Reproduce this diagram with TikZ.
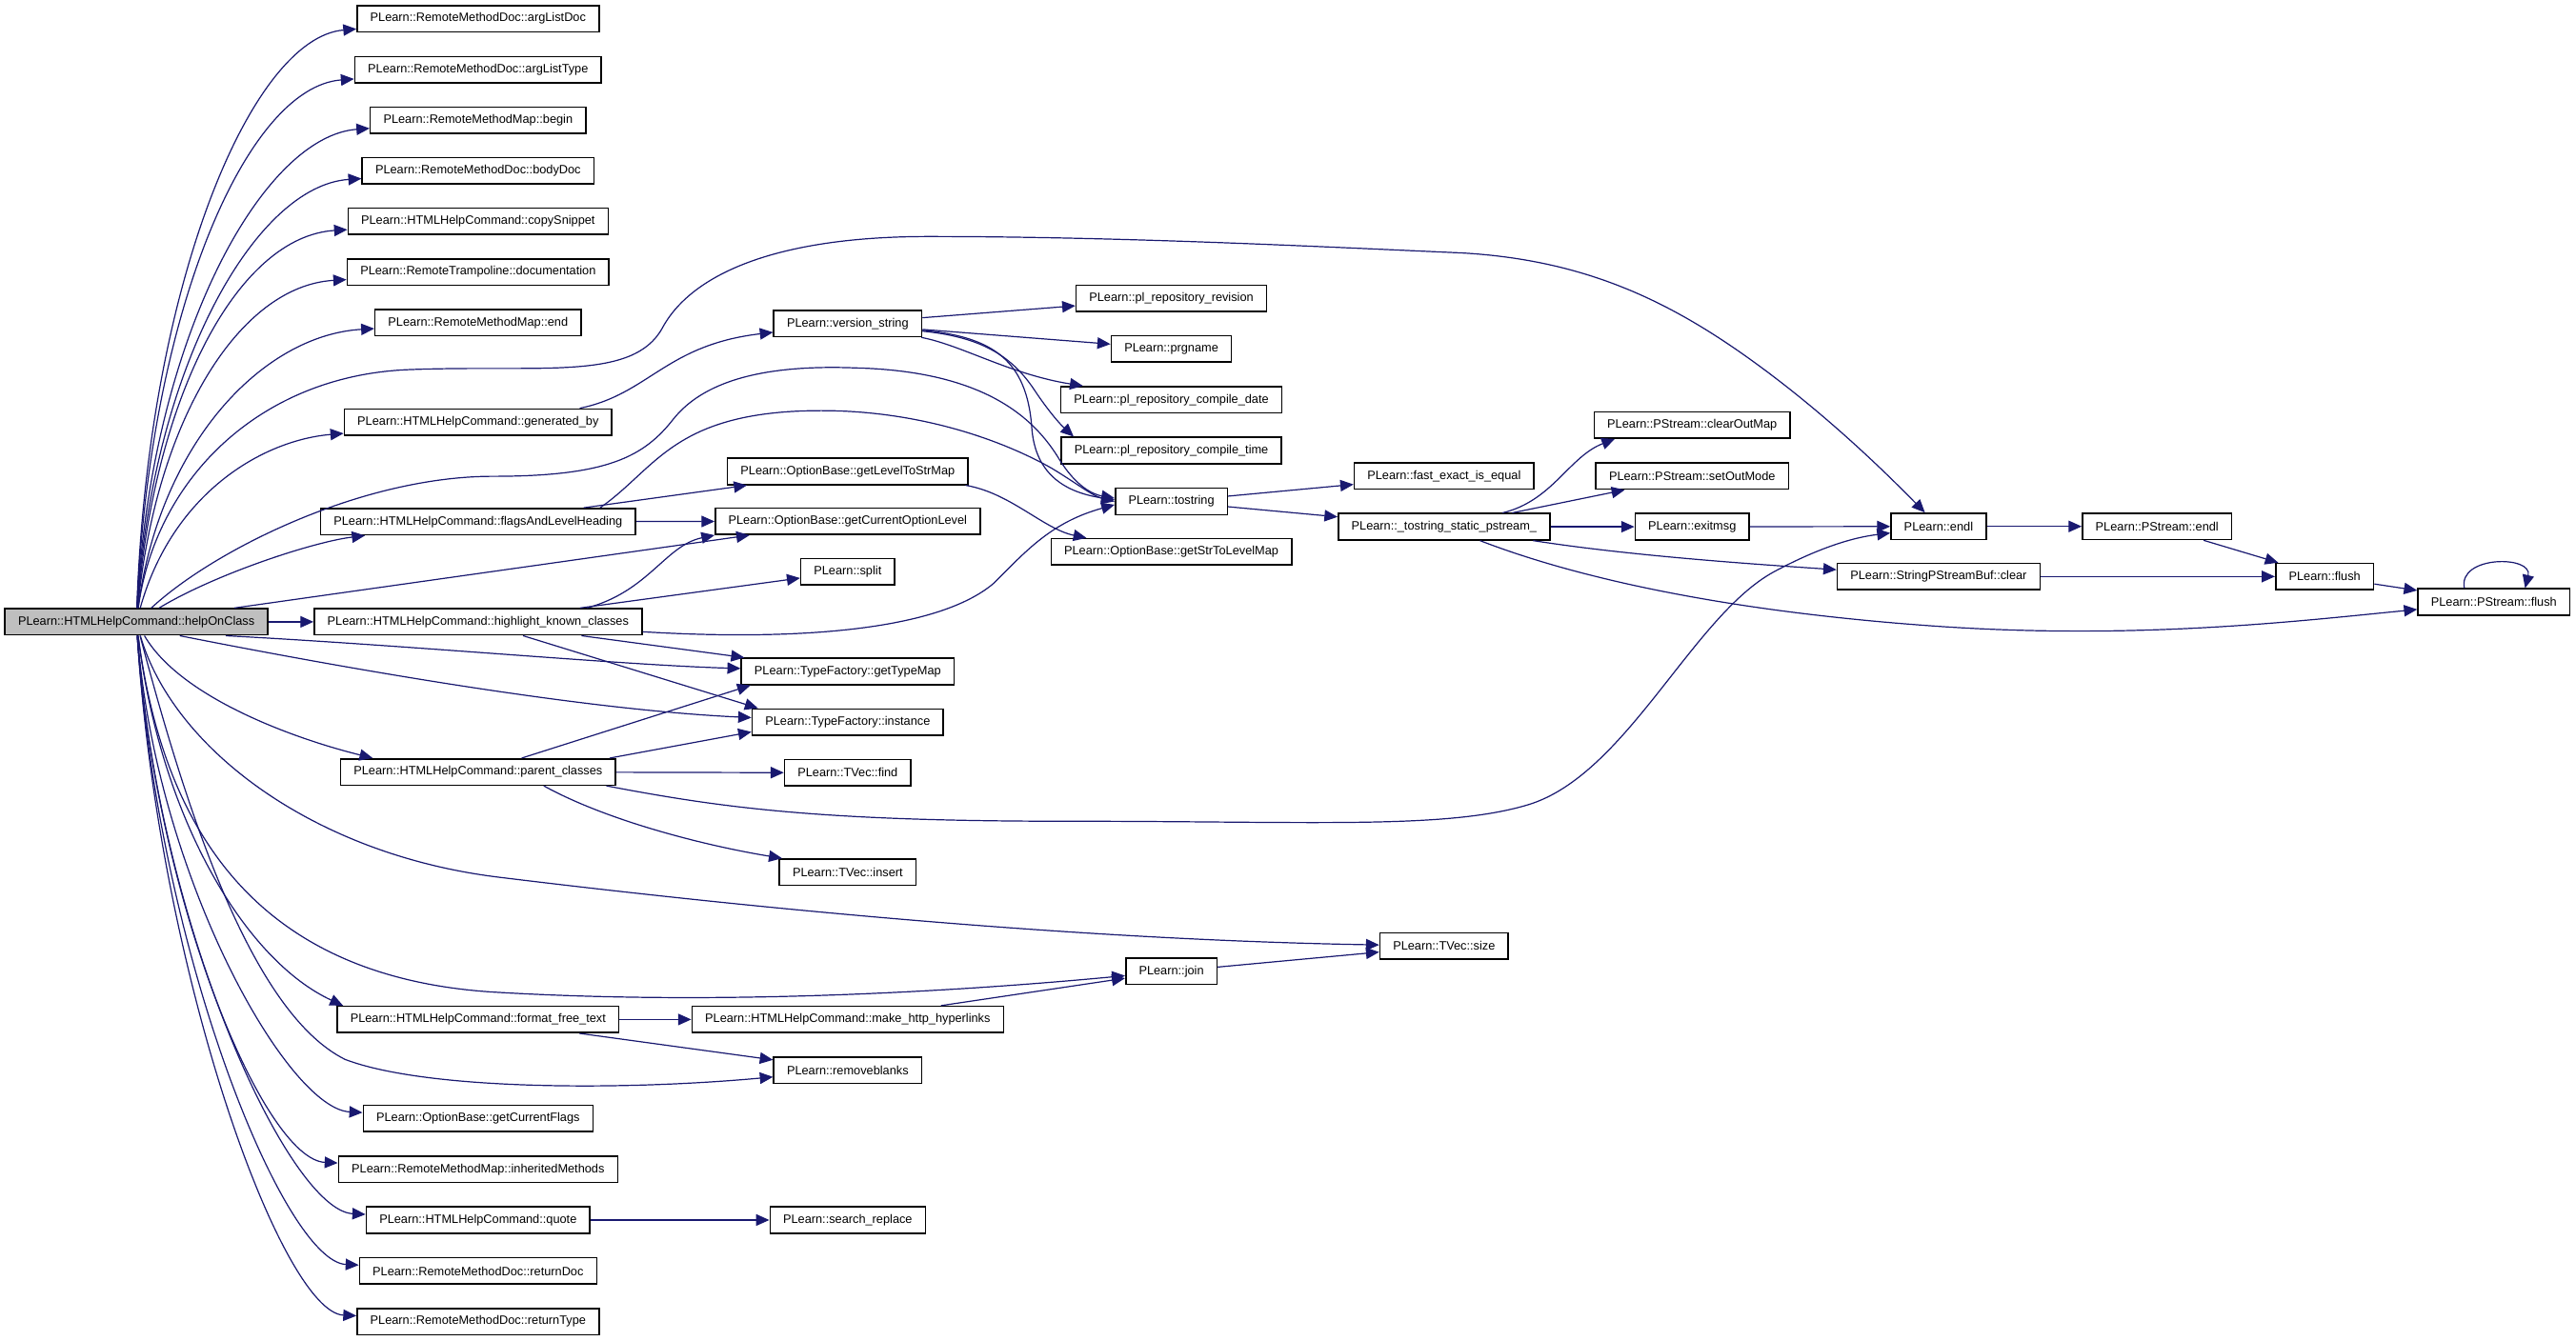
\documentclass[tikz,border=0pt]{standalone}
\usepackage{fontspec}
\setmainfont{Liberation Sans}
\usetikzlibrary{arrows.meta}
\definecolor{edgeblue}{RGB}{25,25,112}
\begin{document}
\begin{tikzpicture}[x=0.5pt,y=-0.5pt]
\tikzstyle{func} = [rectangle, draw=black, line width=0.45pt, fill=white, minimum height=8pt, inner xsep=4pt, inner ysep=0pt, font=\fontsize{3.7}{4}\selectfont]
\tikzstyle{mainfunc} = [func, fill=black!25]
\tikzstyle{arrow} = [line width=0.35pt, draw=edgeblue, -{Triangle[length=4pt,width=3.5pt]}]

\useasboundingbox (0,0) rectangle (1568,816);

%node
\node (HOC) [mainfunc] at (83,378.6) {PLearn::HTMLHelpCommand::helpOnClass};

\node (ALD) [func] at (291,11.4) {PLearn::RemoteMethodDoc::argListDoc};
\node (ALT) [func] at (291,42.4) {PLearn::RemoteMethodDoc::argListType};
\node (RMB) [func] at (291,73.2) {PLearn::RemoteMethodMap::begin};
\node (BD) [func] at (291,104) {PLearn::RemoteMethodDoc::bodyDoc};
\node (CS) [func] at (291,134.8) {PLearn::HTMLHelpCommand::copySnippet};
\node (DOC) [func] at (291,165.6) {PLearn::RemoteTrampoline::documentation};
\node (RME) [func] at (291,196.4) {PLearn::RemoteMethodMap::end};
\node (GB) [func] at (291,257) {PLearn::HTMLHelpCommand::generated\_by};
\node (FLH) [func] at (291,317.6) {PLearn::HTMLHelpCommand::flagsAndLevelHeading};
\node (HKC) [func] at (291,378.6) {PLearn::HTMLHelpCommand::highlight\_known\_classes};
\node (PC) [func] at (291,470) {PLearn::HTMLHelpCommand::parent\_classes};
\node (FFT) [func] at (291,620.7) {PLearn::HTMLHelpCommand::format\_free\_text};
\node (GCF) [func] at (291,681) {PLearn::OptionBase::getCurrentFlags};
\node (IM) [func] at (291,712) {PLearn::RemoteMethodMap::inheritedMethods};
\node (QT) [func] at (291,742.8) {PLearn::HTMLHelpCommand::quote};
\node (RD) [func] at (291,773.8) {PLearn::RemoteMethodDoc::returnDoc};
\node (RT) [func] at (291,804.6) {PLearn::RemoteMethodDoc::returnType};

\node (VS) [func] at (516,197) {PLearn::version\_string};
\node (GLS) [func] at (516,287) {PLearn::OptionBase::getLevelToStrMap};
\node (GCO) [func] at (516,317.4) {PLearn::OptionBase::getCurrentOptionLevel};
\node (SPL) [func] at (516,348) {PLearn::split};
\node (GTM) [func] at (516,408.8) {PLearn::TypeFactory::getTypeMap};
\node (INS) [func] at (516,439.6) {PLearn::TypeFactory::instance};
\node (FND) [func] at (516,470.5) {PLearn::TVec::find};
\node (INSRT) [func] at (516,531) {PLearn::TVec::insert};
\node (MHH) [func] at (516,620.7) {PLearn::HTMLHelpCommand::make\_http\_hyperlinks};
\node (RB) [func] at (516,651.5) {PLearn::removeblanks};
\node (SR) [func] at (516,742.8) {PLearn::search\_replace};

\node (PRR) [func] at (713,181.6) {PLearn::pl\_repository\_revision};
\node (PRG) [func] at (713,212.4) {PLearn::prgname};
\node (PCD) [func] at (713,243.4) {PLearn::pl\_repository\_compile\_date};
\node (PCT) [func] at (713,274.3) {PLearn::pl\_repository\_compile\_time};
\node (TS) [func] at (713,305.3) {PLearn::tostring};
\node (GSL) [func] at (713,336) {PLearn::OptionBase::getStrToLevelMap};
\node (JN) [func] at (713,591.4) {PLearn::join};

\node (FEE) [func] at (879,289.8) {PLearn::fast\_exact\_is\_equal};
\node (TSP) [func] at (879,320.7) {PLearn::\_tostring\_static\_pstream\_};
\node (SZ) [func] at (879,576) {PLearn::TVec::size};

\node (COM) [func] at (1030,258.8) {PLearn::PStream::clearOutMap};
\node (SOM) [func] at (1030,289.8) {PLearn::PStream::setOutMode};
\node (EXM) [func] at (1030,320.7) {PLearn::exitmsg};
\node (ENDL) [func] at (1180,320.5) {PLearn::endl};
\node (SPC) [func] at (1180,351) {PLearn::StringPStreamBuf::clear};
\node (PSE) [func] at (1313,320.5) {PLearn::PStream::endl};
\node (FL) [func] at (1415,351) {PLearn::flush};
\node (PSF) [func] at (1518,366.5) {PLearn::PStream::flush};

%lines from helpOnClass
\draw [arrow] (HOC) .. controls (90,173) and (153,23) .. (ALD);
\draw [arrow] (HOC) .. controls (91,190) and (150,53) .. (ALT);
\draw [arrow] (HOC) .. controls (92,205) and (160,83) .. (RMB);
\draw [arrow] (HOC) .. controls (93,222) and (156,113) .. (BD);
\draw [arrow] (HOC) .. controls (94,240) and (145,144) .. (CS);
\draw [arrow] (HOC) .. controls (95,255) and (146,174) .. (DOC);
\draw [arrow] (HOC) .. controls (97,270) and (160,204) .. (RME);
\draw [arrow] (HOC) .. controls (105,300) and (160,268) .. (GB);
\draw [arrow] (HOC) .. controls (95,290) and (160,228) .. (250,225) .. controls (330,222) and (385,232) .. (403,200) .. controls (420,168) and (470,144) .. (565,144) .. controls (680,144) and (800,150) .. (890,154) .. controls (960,158) and (1010,180) .. (1060,215) .. controls (1110,250) and (1150,290) .. (ENDL);
\draw [arrow] (HOC) .. controls (130,335) and (220,290) .. (300,290) .. controls (370,290) and (392,278) .. (410,255) .. controls (430,230) and (470,222) .. (521,224) .. controls (600,226) and (630,255) .. (645,280) .. controls (655,296) and (665,301) .. ([yshift=1pt]TS.west);
\draw [arrow] (HOC) .. controls (130,350) and (190,330) .. (FLH);
\draw [arrow] (HOC) -- (GCO);
\draw [arrow] (HOC) -- (HKC);
\draw [arrow] ([xshift=-13pt]HOC.south east) .. controls (250,393) and (380,405) .. (GTM);
\draw [arrow] ([xshift=-27pt]HOC.south east) .. controls (200,405) and (350,432) .. (INS);
\draw [arrow] (HOC) .. controls (110,425) and (180,450) .. ([xshift=10pt]PC.north west);
\draw [arrow] (HOC) .. controls (105,455) and (190,520) .. (303,534) .. controls (450,552) and (650,572) .. (SZ);
\draw [arrow] (HOC) .. controls (100,510) and (160,595) .. (300,604) .. controls (450,613) and (600,602) .. (JN);
\draw [arrow] (HOC) .. controls (98,500) and (150,585) .. ([xshift=2pt]FFT.north west);
\draw [arrow] (HOC) .. controls (110,480) and (150,615) .. (210,645) .. controls (260,664) and (380,664) .. (RB);
\draw [arrow] (HOC) .. controls (95,534) and (175,675) .. (GCF);
\draw [arrow] (HOC) .. controls (95,550) and (161,706) .. (IM);
\draw [arrow] (HOC) .. controls (96,565) and (176,737) .. (QT);
\draw [arrow] (HOC) .. controls (96,580) and (173,768) .. (RD);
\draw [arrow] (HOC) .. controls (97,596) and (172,799) .. (RT);

%lines from second column
\draw [arrow] ([xshift=-10pt]GB.north east) .. controls (395,240) and (405,210) .. (VS);
\draw [arrow] ([xshift=-16pt]FLH.north east) -- (GLS);
\draw [arrow] (FLH) -- (GCO);
\draw [arrow] ([xshift=-11pt]FLH.north east) .. controls (400,285) and (410,250) .. (500,250) .. controls (560,250) and (610,268) .. (640,285) .. controls (655,294) and (665,302) .. (TS.west);
\draw [arrow] ([xshift=-17pt]HKC.north east) .. controls (395,360) and (405,332) .. (GCO.south west);
\draw [arrow] (HKC) -- (SPL);
\draw [arrow] (HKC) -- (GTM);
\draw [arrow] (HKC) -- ([xshift=2pt]INS.north west);
\draw [arrow] (HKC) .. controls (480,390) and (570,385) .. (605,355) .. controls (625,335) and (640,318) .. ([yshift=-1pt]TS.west);
\draw [arrow] (PC) -- ([xshift=3pt]GTM.south west);
\draw [arrow] ([xshift=-2pt]PC.north east) -- ([yshift=-3pt]INS.west);
\draw [arrow] (PC) -- (FND);
\draw [arrow] ([xshift=20pt]PC.south) .. controls (370,500) and (430,515) .. ([xshift=1pt]INSRT.north west);
\draw [arrow] ([xshift=-3pt]PC.south east) .. controls (440,492) and (500,500) .. (650,500) .. controls (800,500) and (880,505) .. (930,490) .. controls (990,472) and (1030,375) .. (1080,348) .. controls (1110,332) and (1130,327) .. ([yshift=-2pt]ENDL.west);
\draw [arrow] (FFT) -- (MHH);
\draw [arrow] (FFT) -- (RB);
\draw [arrow] (QT) -- (SR);

%lines from version_string and getLevelToStrMap
\draw [arrow] (VS) -- (PRR);
\draw [arrow] (VS) -- (PRG);
\draw [arrow] (VS) .. controls (585,210) and (615,228) .. (PCD);
\draw [arrow] (VS) .. controls (595,205) and (615,215) .. (630,238) .. controls (638,250) and (645,258) .. ([xshift=4pt]PCT.north west);
\draw [arrow] (VS) .. controls (605,205) and (625,220) .. (628,260) .. controls (630,290) and (650,300) .. ([yshift=0.5pt]TS.west);
\draw [arrow] ([xshift=-1pt]GLS.south east) .. controls (615,300) and (635,322) .. ([xshift=11pt]GSL.north west);
\draw [arrow] (MHH) -- (JN);
\draw [arrow] (JN) -- (SZ);

%lines from tostring
\draw [arrow] (TS) -- (FEE);
\draw [arrow] (TS) -- (TSP);
\draw [arrow] (TSP) .. controls (945,305) and (955,278) .. ([xshift=6.5pt]COM.south west);
\draw [arrow] (TSP) -- ([xshift=9pt]SOM.south west);
\draw [arrow] (TSP) -- (EXM);
\draw [arrow] (TSP) .. controls (990,338) and (1060,343) .. (SPC);
\draw [arrow] (TSP) .. controls (960,352) and (1050,372) .. (1175,381) .. controls (1300,390) and (1400,378) .. (PSF);

%lines to flush
\draw [arrow] (EXM) -- (ENDL);
\draw [arrow] (ENDL) -- (PSE);
\draw [arrow] (PSE) -- (FL);
\draw [arrow] (SPC) -- (FL);
\draw [arrow] (FL) -- (PSF);
\draw [arrow] ([xshift=-9pt]PSF.north) .. controls (1496,338) and (1542,338) .. ([xshift=9.5pt]PSF.north);
\end{tikzpicture}
\end{document}
